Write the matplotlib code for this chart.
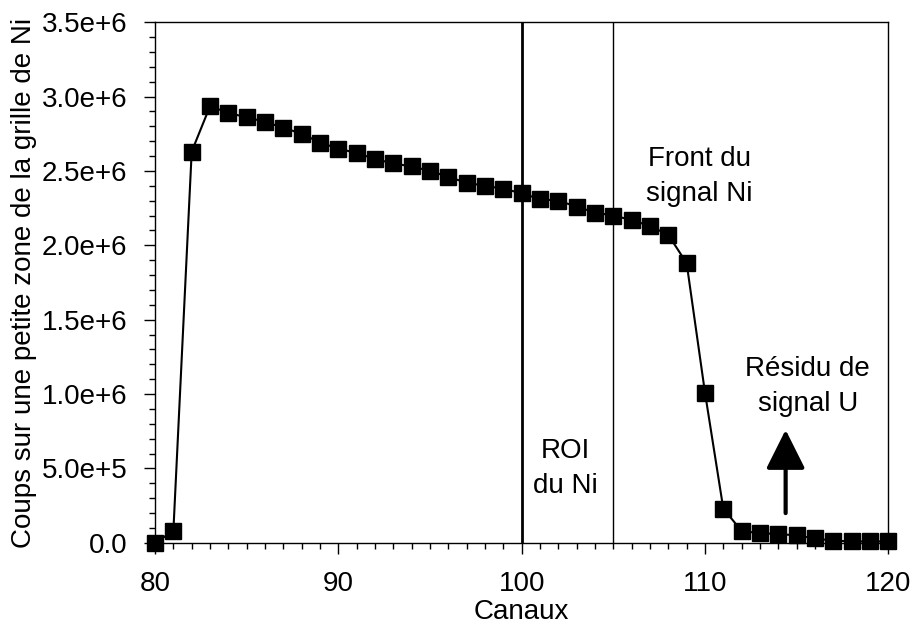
import matplotlib
matplotlib.use("Agg")
import matplotlib.pyplot as plt
from matplotlib.ticker import MultipleLocator, FuncFormatter

plt.rcParams['font.family'] = ['Liberation Sans', 'DejaVu Sans']

channels = list(range(80, 121))
counts = [0.0, 0.08e6, 2.63e6, 2.935e6, 2.89e6, 2.86e6, 2.83e6, 2.79e6, 2.75e6, 2.69e6,
          2.65e6, 2.62e6, 2.58e6, 2.55e6, 2.53e6, 2.50e6, 2.46e6, 2.42e6, 2.40e6, 2.38e6,
          2.35e6, 2.31e6, 2.30e6, 2.26e6, 2.22e6, 2.20e6, 2.17e6, 2.13e6, 2.07e6, 1.88e6,
          1.01e6, 0.23e6, 0.08e6, 0.065e6, 0.06e6, 0.05e6, 0.03e6, 0.015e6, 0.01e6, 0.01e6,
          0.01e6]
roi_lines = [100, 105]
annotations = [("Front du\nsignal Ni", 109.7, 2.46e6),
               ("Résidu de\nsignal U", 115.6, 1.05e6),
               ("ROI\ndu Ni", 102.4, 0.5e6)]

fig = plt.figure(figsize=(9.12, 6.32), dpi=100)
ax = fig.add_axes([0.170, 0.141, 0.804, 0.824])

ax.plot(channels, counts, color='black', lw=1.5, marker='s', ms=12,
        markerfacecolor='black', markeredgecolor='black', clip_on=False, zorder=3)

ax.axvline(roi_lines[0], color='black', lw=2)
ax.axvline(roi_lines[1], color='black', lw=1)

for txt, x, y in annotations:
    ax.text(x, y, txt, ha='center', va='center', fontsize=20, linespacing=1.45)

ax.annotate('', xy=(114.4, 0.76e6), xytext=(114.4, 0.2e6),
            arrowprops=dict(arrowstyle='-|>,head_length=2.4,head_width=1.2',
                            color='black', lw=3, shrinkA=0, shrinkB=0))

ax.set_xlim(80, 120)
ax.set_ylim(0, 3.5e6)
ax.xaxis.set_major_locator(MultipleLocator(10))
ax.xaxis.set_minor_locator(MultipleLocator(1))
ax.yaxis.set_major_locator(MultipleLocator(0.5e6))
ax.yaxis.set_minor_locator(MultipleLocator(0.1e6))

def yfmt(v, pos):
    if v == 0:
        return '0.0'
    s = '%.1e' % v
    m, e = s.split('e')
    return '%se+%d' % (m, int(e))
ax.yaxis.set_major_formatter(FuncFormatter(yfmt))

ax.tick_params(which='major', direction='out', length=8, width=1, labelsize=20, pad=12)
ax.tick_params(which='minor', direction='out', length=4, width=1)
for s in ax.spines.values():
    s.set_linewidth(1)

ax.set_xlabel('Canaux', fontsize=20, labelpad=2)
ax.set_ylabel('Coups sur une petite zone de la grille de Ni', fontsize=20, labelpad=3)

fig.savefig('out.png', dpi=100)
